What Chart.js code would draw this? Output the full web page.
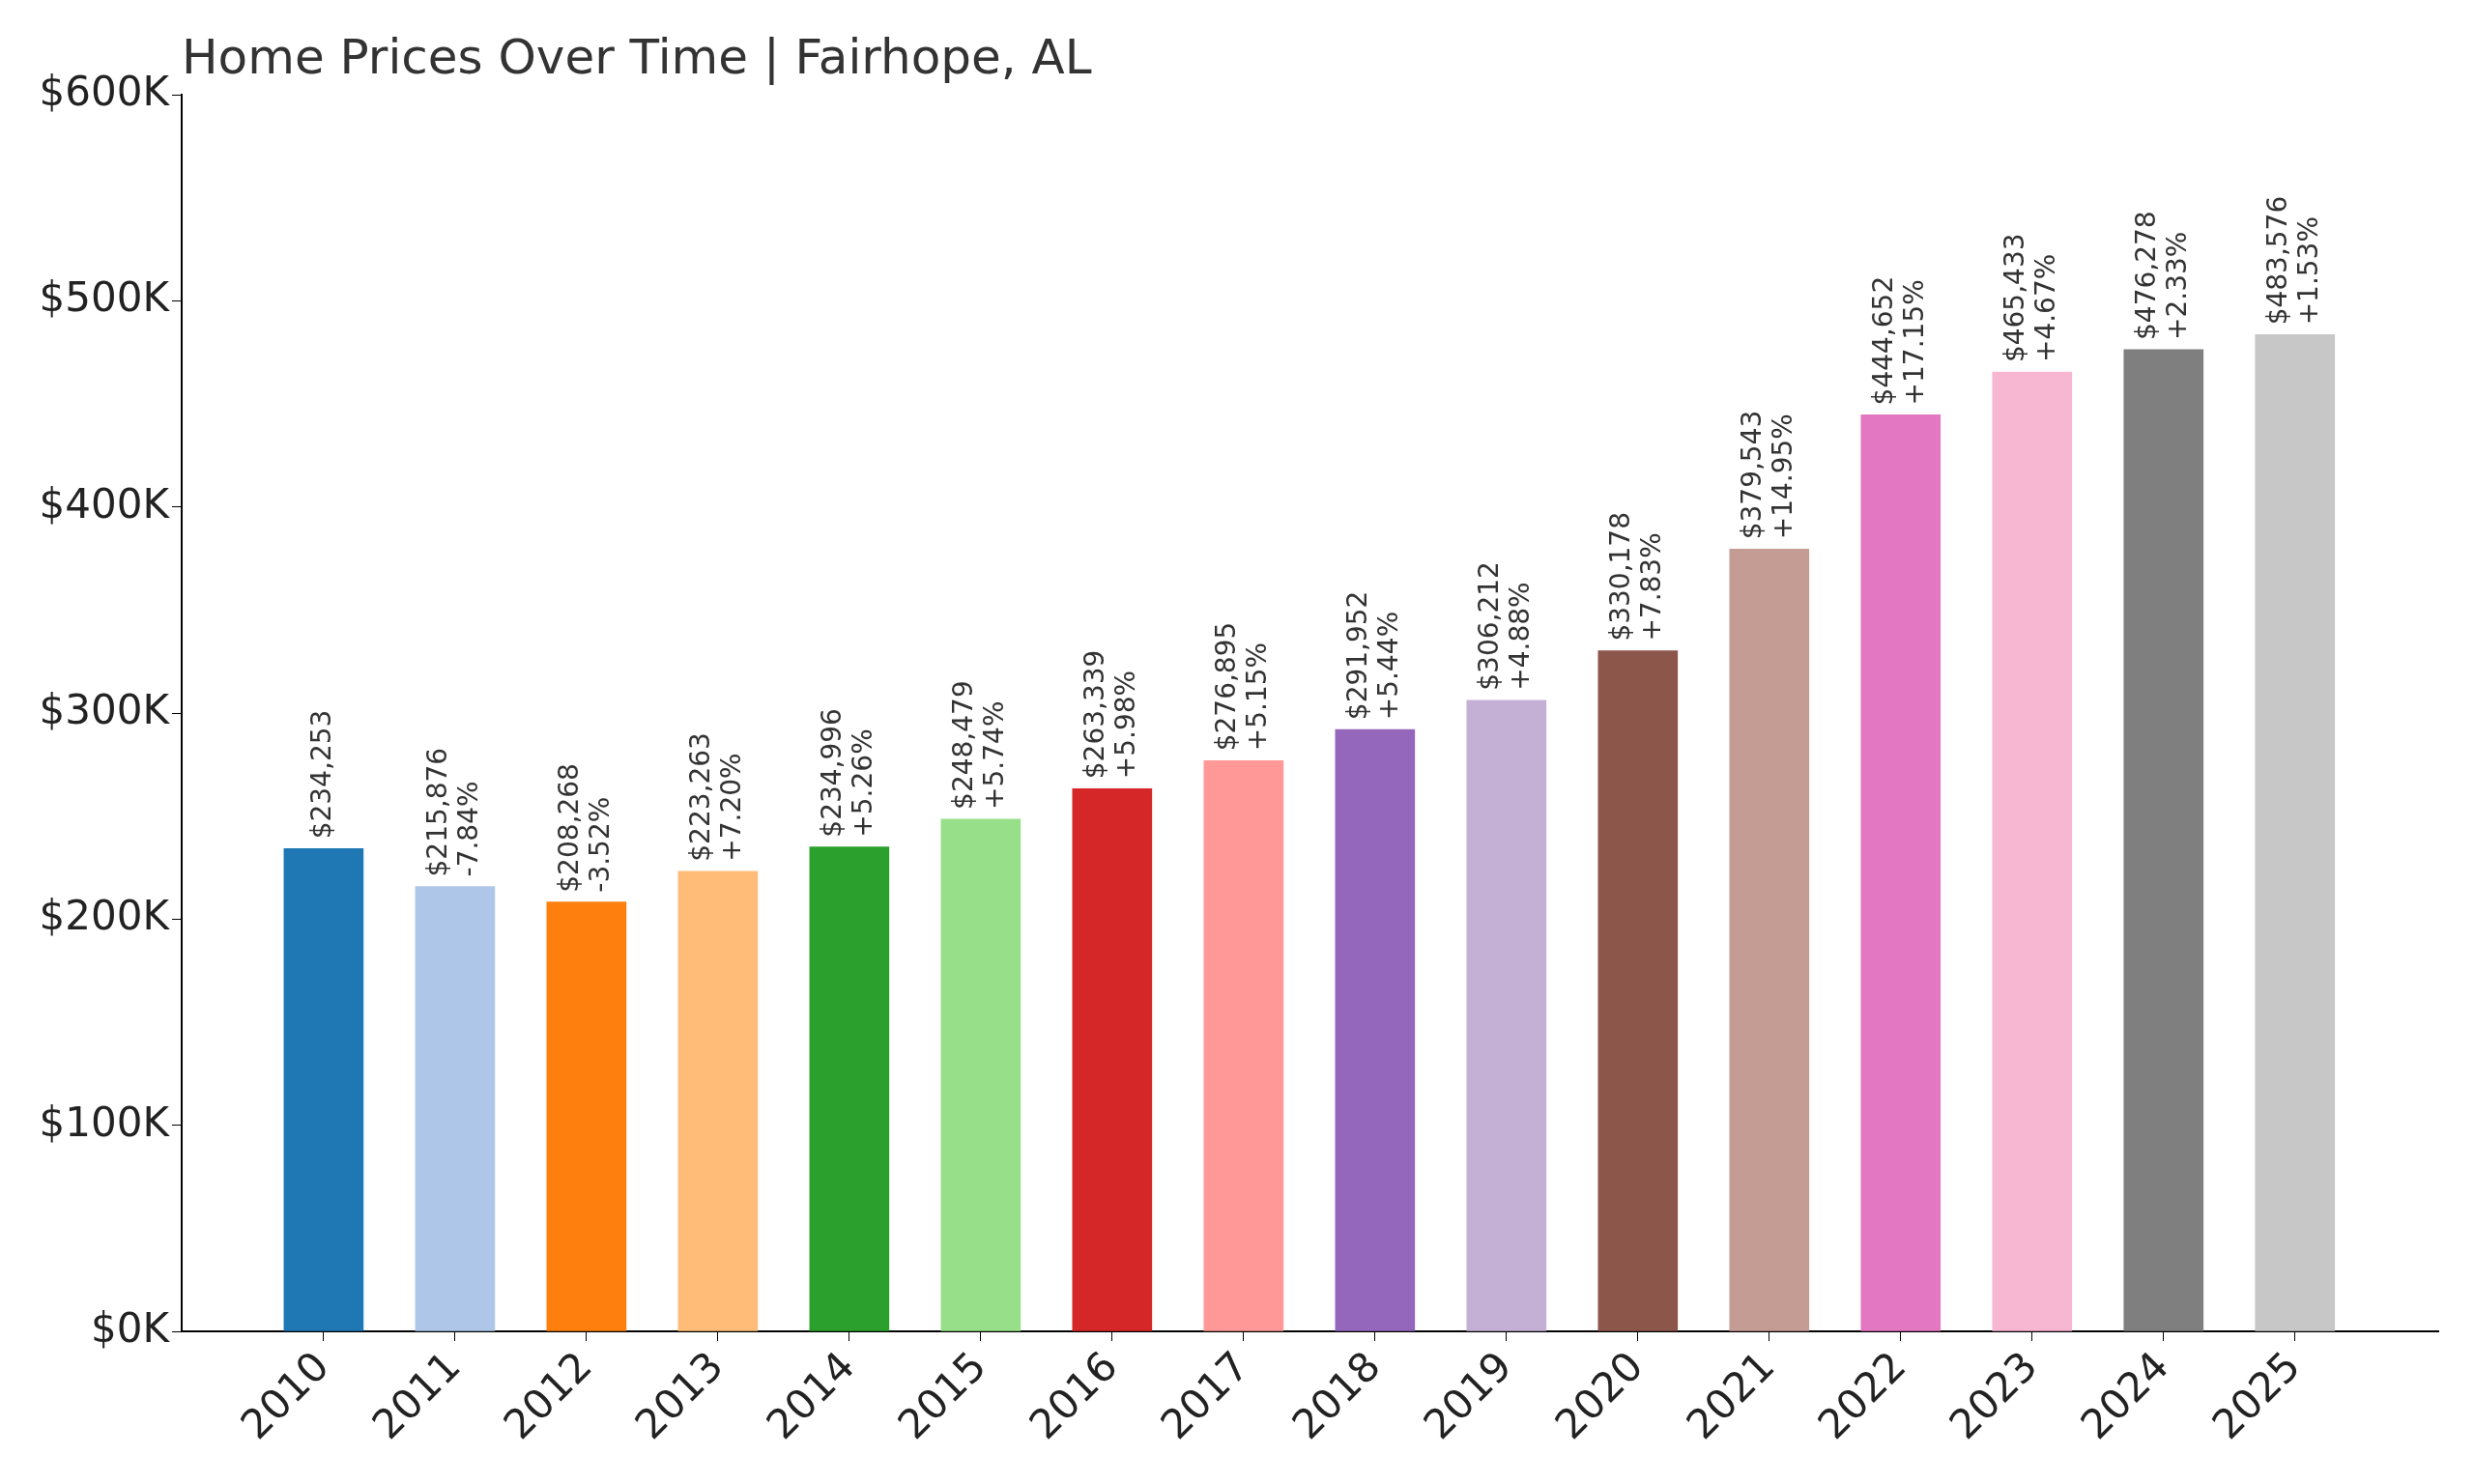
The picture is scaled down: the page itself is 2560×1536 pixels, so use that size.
<!DOCTYPE html>
<html><head><meta charset="utf-8">
<script src="https://cdn.jsdelivr.net/npm/chart.js@4"></script>
<style>html,body{margin:0;padding:0;background:#fff}#w{width:2560px;height:1536px}</style>
</head><body><div id="w"><canvas id="c"></canvas></div>
<script>
const years=[2010,2011,2012,2013,2014,2015,2016,2017,2018,2019,2020,2021,2022,2023,2024,2025];
const prices=[234253,215876,208268,223263,234996,248479,263339,276895,291952,306212,330178,379543,444652,465433,476278,483576];
const changes=["","-7.84%","-3.52%","+7.20%","+5.26%","+5.74%","+5.98%","+5.15%","+5.44%","+4.88%","+7.83%","+14.95%","+17.15%","+4.67%","+2.33%","+1.53%"];
const colors=["#1f77b4","#aec7e8","#ff7f0e","#ffbb78","#2ca02c","#98df8a","#d62728","#ff9896","#9467bd","#c5b0d5","#8c564b","#c49c94","#e377c2","#f7b6d2","#7f7f7f","#c7c7c7"];
const title="Home Prices Over Time | Fairhope, AL";
const F="DejaVu Sans";
const labelPlugin={id:'lbl',afterDatasetsDraw(ch){
  const ctx=ch.ctx, meta=ch.getDatasetMeta(0);
  ctx.save();ctx.fillStyle="#333";ctx.font="28px '"+F+"'";ctx.textAlign="left";ctx.textBaseline="middle";
  meta.data.forEach((b,i)=>{
    ctx.save();ctx.translate(b.x,b.y-10);ctx.rotate(-Math.PI/2);
    const p="$"+prices[i].toLocaleString('en-US');
    if(changes[i]){ctx.fillText(p,0,-16);ctx.fillText(changes[i],0,16);}
    else ctx.fillText(p,0,0);
    ctx.restore();
  });
  ctx.font="50px '"+F+"'";ctx.fillStyle="#333";ctx.textBaseline="alphabetic";
  ctx.fillText(title,188,76);
  ctx.restore();
}};
new Chart(document.getElementById('c'),{
  type:'bar',
  data:{datasets:[{data:years.map((y,i)=>({x:y,y:prices[i]})),backgroundColor:colors,barThickness:82}]},
  options:{responsive:true,maintainAspectRatio:false,animation:false,
    layout:{padding:{top:98,right:37,left:0,bottom:0}},
    plugins:{legend:{display:false},tooltip:{enabled:false}},
    scales:{
      x:{type:'linear',offset:false,min:2008.92,max:2026.09,afterFit(s){s.height=158;},
        afterBuildTicks(s){s.ticks=years.map(v=>({value:v}));},
        grid:{display:true,offset:false,drawOnChartArea:false,drawTicks:true,tickLength:10,color:'#000'},
        border:{color:'#000',width:2},
        ticks:{maxRotation:45,minRotation:45,color:'#222',font:{family:F,size:42},callback:v=>String(v),autoSkip:false}},
      y:{min:0,max:600000,afterFit(s){s.width=188;},
        grid:{drawOnChartArea:false,drawTicks:true,tickLength:10,color:'#000'},
        border:{color:'#000',width:2},
        ticks:{stepSize:100000,color:'#222',font:{family:F,size:42},callback:v=>"$"+(v/1000)+"K"}}
    }},
  plugins:[labelPlugin]
});
</script></body></html>
